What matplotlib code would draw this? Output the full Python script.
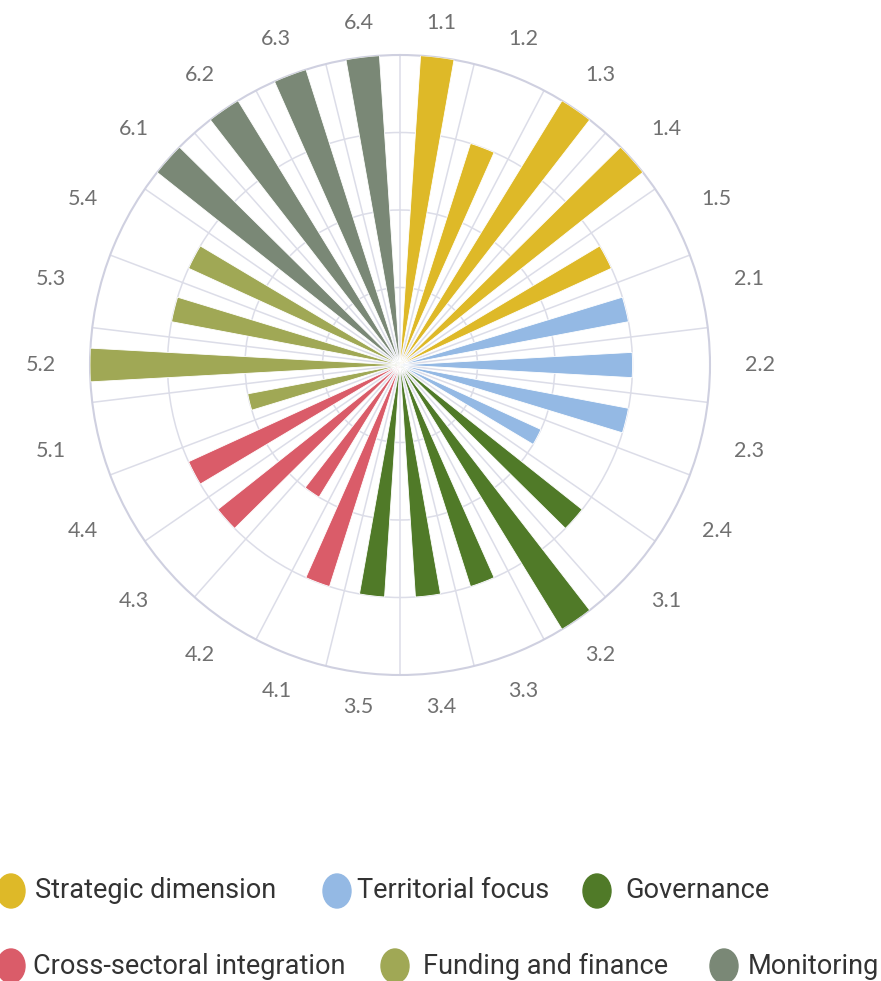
import matplotlib.pyplot as plt
import numpy as np
from matplotlib.patches import Ellipse

# categories and scores
labels = ["1.1", "1.2", "1.3", "1.4", "1.5",
          "2.1", "2.2", "2.3", "2.4",
          "3.1", "3.2", "3.3", "3.4", "3.5",
          "4.1", "4.2", "4.3", "4.4",
          "5.1", "5.2", "5.3", "5.4",
          "6.1", "6.2", "6.3", "6.4"]
values = [4, 3, 4, 4, 3,
          3, 3, 3, 2,
          3, 4, 3, 3, 3,
          3, 2, 3, 3,
          2, 4, 3, 3,
          4, 4, 4, 4]
groups = ["Strategic dimension"] * 5 + ["Territorial focus"] * 4 + ["Governance"] * 5 + \
         ["Cross-sectoral integration"] * 4 + ["Funding and finance"] * 4 + ["Monitoring"] * 4
group_names = ["Strategic dimension", "Territorial focus", "Governance",
               "Cross-sectoral integration", "Funding and finance", "Monitoring"]
group_colors = ["#DEB928", "#94B9E4", "#507A28", "#DA5C69", "#A0A855", "#7A8876"]

W, H = 881, 981
fig = plt.figure(figsize=(W / 100, H / 100), dpi=100)

cx, cy, R = 400, 365, 310
ax = fig.add_axes([(cx - R) / W, (H - cy - R) / H, 2 * R / W, 2 * R / H], projection="polar")
ax.set_theta_zero_location("N")
ax.set_theta_direction(-1)
ax.set_ylim(0, 4)

n = len(labels)
slot = 2 * np.pi / n
centers = (np.arange(n) + 0.5) * slot
color_of = dict(zip(group_names, group_colors))
bar_colors = [color_of[g] for g in groups]

grid_col = "#DCDDE8"
ax.set_xticks(np.arange(n) * slot)
ax.set_xticklabels([])
ax.set_yticks([1, 2, 3])
ax.set_yticklabels([])
ax.xaxis.grid(True, color=grid_col, linewidth=1.1)
ax.yaxis.grid(True, color=grid_col, linewidth=1.1)
ax.tick_params(length=0)
ax.spines["polar"].set_color("#CFD0E0")
ax.spines["polar"].set_linewidth(1.5)

ax.bar(centers, values, width=slot * 0.45, color=bar_colors, edgecolor="white",
       linewidth=0.6, zorder=3)

for th, lab in zip(centers, labels):
    r = 4.42 + 0.22 * abs(np.sin(th))
    ax.text(th, r, lab, ha="center", va="center", fontsize=15.5, color="#707070",
            family="Lato", clip_on=False)

# legend
lax = fig.add_axes([0, 0, 1, 1])
lax.set_xlim(0, W)
lax.set_ylim(H, 0)
lax.axis("off")
items = [(11, 891, 35), (337, 891, 357), (597, 891, 625),
         (11, 966, 33), (395, 966, 423), (724, 966, 748)]
for (mx, my, tx), name, col in zip(items, group_names, group_colors):
    lax.add_patch(Ellipse((mx, my), 28, 34, color=col))
    lax.text(tx, my, name, ha="left", va="center", fontsize=19.5, color="#333333",
             family="Roboto")

fig.savefig("out.png", dpi=100)
